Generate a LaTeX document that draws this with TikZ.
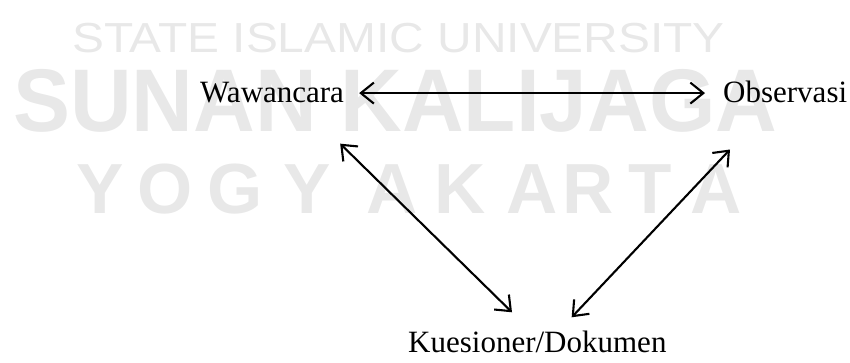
\documentclass[tikz,border=0pt]{standalone}
\usepackage{fontspec}
\setmainfont{Liberation Serif}
\newfontfamily\wmfont{Liberation Sans}
\usetikzlibrary{arrows.meta}
\definecolor{wmgray}{RGB}{232,232,232}
\tikzset{
  label/.style={inner sep=0pt,anchor=base west,font=\fontsize{31}{37}\selectfont},
  mark text/.style={inner sep=0pt,text=wmgray},
  link/.style={line width=2.1pt,{Straight Barb[length=13pt,width=21pt]}-{Straight Barb[length=13pt,width=21pt]}}
}

\begin{document}
\begin{tikzpicture}[x=1pt,y=-1pt]
\useasboundingbox (0,0) rectangle (850,363);
% watermark
\node[mark text,anchor=base west] (wm1) at (72,53)
  {\wmfont\fontsize{42}{42}\selectfont\scalebox{1.14}[1]{STATE ISLAMIC UNIVERSITY}};
\node[mark text,anchor=base west] (wm2) at (13,132)
  {\wmfont\bfseries\fontsize{89}{89}\selectfont\scalebox{0.96}[1]{SUNAN KALIJAGA}};
\foreach \ch/\cx in {Y/100,O/165,G/235,Y/307,A/392,K/460,A/532,R/588,T/650,A/716}
  \node[mark text,anchor=base] at (\cx,214) {\wmfont\bfseries\fontsize{71}{71}\selectfont\ch};
% labels
\node[label] (wwc) at (200,103) {Wawancara};
\node[label] (obs) at (723,103) {Observasi};
\node[label] (kue) at (408,352) {Kuesioner/Dokumen};
% arrows
\draw[link,shorten <=15pt,shorten >=18pt] (wwc.east) -- (wwc.east -| obs.west);
\draw[link] ([shift={(-4,40)}]wwc.south east) -- ([shift={(104,-18)}]kue.north west);
\draw[link] ([shift={(7,46)}]obs.south west) -- ([shift={(-95,-13)}]kue.north east);
\end{tikzpicture}
\end{document}
